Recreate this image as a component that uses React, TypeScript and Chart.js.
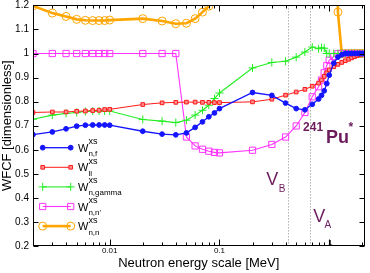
import React, { useEffect, useRef } from 'react';
import { Chart, registerables } from 'chart.js';

Chart.register(...registerables);

// ---- data ----
const energies = [
  0.002, 0.003, 0.004, 0.005, 0.006, 0.007, 0.008, 0.009, 0.01,
  0.02, 0.03, 0.04, 0.05, 0.06, 0.07, 0.08, 0.09, 0.1,
  0.2, 0.3, 0.4, 0.5, 0.6, 0.7, 0.8, 0.85, 0.9, 0.95, 1.0,
  1.1, 1.2, 1.3, 1.4, 1.5, 1.6, 1.7, 1.8, 1.9, 2.0,
];

const wnf = [
  0.663, 0.674, 0.687, 0.698, 0.702, 0.703, 0.703, 0.703, 0.702,
  0.677, 0.665, 0.662, 0.670, 0.693, 0.716, 0.737, 0.753, 0.771,
  0.838, 0.826, 0.794, 0.771, 0.766, 0.789, 0.811, 0.826, 0.845, 0.875, 0.910,
  0.960, 0.985, 0.995, 1.0, 1.0, 1.0, 1.0, 1.0, 1.0, 1.0,
];

const wll = [
  0.755, 0.757, 0.757, 0.760, 0.761, 0.763, 0.764, 0.767, 0.768,
  0.788, 0.795, 0.797, 0.798, 0.798, 0.797, 0.797, 0.796, 0.796,
  0.799, 0.810, 0.827, 0.840, 0.851, 0.864, 0.877, 0.890, 0.905, 0.920, 0.932,
  0.945, 0.955, 0.963, 0.970, 0.976, 0.982, 0.987, 0.992, 0.996, 1.0,
];

const wng = [
  0.727, 0.744, 0.751, 0.755, 0.759, 0.761, 0.761, 0.761, 0.761,
  0.726, 0.719, 0.713, 0.723, 0.744, 0.764, 0.785, 0.813, 0.836,
  0.940, 0.963, 0.968, 0.985, 1.006, 1.027, 1.020, 1.024, 1.022, 1.0, 1.0,
  1.0, 1.0, 1.0, 1.0, 1.0, 1.0, 1.0, 1.0, 1.0, 1.0,
];

const wnnp = [
  1.0, 1.0, 1.0, 1.0, 1.0, 1.0, 1.0, 1.0, 1.0,
  1.0, 1.0, 1.0, 0.653, 0.616, 0.602, 0.594, 0.589, 0.587,
  0.598, 0.622, 0.653, 0.699, 0.755, 0.820, 0.862, 0.890, 0.920, 0.950, 0.972,
  0.988, 1.0, 1.0, 1.0, 1.0, 1.0, 1.0, 1.0, 1.0, 1.0,
];

const wnn = [
  1.198, 1.168, 1.154, 1.142, 1.138, 1.137, 1.137, 1.137, 1.139,
  1.145, 1.135, 1.124, 1.126, 1.145, 1.172, 1.197, 1.23, 1.27,
  1.55, 1.70, 1.80, 1.90, 2.00, 2.10, 2.20, 2.30, 2.40, 2.50, 2.60,
  3.00, 1.172, 1.0, 1.0, 1.0, 1.0, 1.0, 1.0, 1.0, 1.0,
];

const seriesSubs = ['n,f', 'll', 'n,gamma', "n,n'", 'n,n'];
const seriesSup = 'xs';
const seriesMain = 'W';

const xTickLabels = [0.01, 0.1, 1];
const yTickValues = [0.2, 0.3, 0.4, 0.5, 0.6, 0.7, 0.8, 0.9, 1.0, 1.1, 1.2];

const barrierB = 0.424; // V_B
const barrierA = 0.662; // V_A

const X_MIN = 0.002;
const X_MAX = 2.1;
const Y_MIN = 0.2;
const Y_MAX = 1.2;

const FONT = '"Liberation Sans", Arial, Helvetica, sans-serif';
const ANNOT = '#6b1a5c';

const styles = [
  { color: '#1414ff', bg: '#1414ff', lw: 1.3, ps: 'circle', r: 2.4 },
  { color: '#ff1a1a', bg: '#ff8c8c', lw: 1, ps: 'rect', r: 2.6 },
  { color: '#22ee22', bg: '#22ee22', lw: 1.1, ps: 'cross', r: 4 },
  { color: '#ff33ff', bg: 'rgba(255,255,255,0)', lw: 1.1, ps: 'rect', r: 4.4 },
  { color: '#ffa500', bg: 'rgba(255,255,255,0)', lw: 2.6, ps: 'circle', r: 4 },
];

const allSeries = [wnf, wll, wng, wnnp, wnn];

function drawMarker(ctx: CanvasRenderingContext2D, st: any, x: number, y: number) {
  ctx.save();
  ctx.lineWidth = 1;
  ctx.strokeStyle = st.color;
  ctx.fillStyle = st.bg;
  ctx.beginPath();
  if (st.ps === 'circle') {
    ctx.arc(x, y, st.r, 0, Math.PI * 2);
    ctx.fill();
    ctx.stroke();
  } else if (st.ps === 'rect') {
    const s = st.r * Math.SQRT1_2;
    ctx.rect(x - s, y - s, 2 * s, 2 * s);
    ctx.fill();
    ctx.stroke();
  } else if (st.ps === 'cross') {
    ctx.moveTo(x - st.r, y);
    ctx.lineTo(x + st.r, y);
    ctx.moveTo(x, y - st.r);
    ctx.lineTo(x, y + st.r);
    ctx.stroke();
  }
  ctx.restore();
}

const decorPlugin = {
  id: 'decor',
  beforeDatasetsDraw(chart: any) {
    const { ctx, chartArea: ca, scales } = chart;
    const x = scales.x;
    ctx.save();
    ctx.strokeStyle = '#8a8a8a';
    ctx.lineWidth = 1;
    ctx.setLineDash([1, 2]);
    for (const e of [barrierB, barrierA]) {
      const px = Math.round(x.getPixelForValue(e)) + 0.5;
      ctx.beginPath();
      ctx.moveTo(px, ca.top);
      ctx.lineTo(px, ca.bottom);
      ctx.stroke();
    }
    ctx.restore();
  },
  afterDatasetsDraw(chart: any) {
    const { ctx, chartArea: ca, scales } = chart;
    const x = scales.x;
    const y = scales.y;
    ctx.save();
    // frame
    ctx.strokeStyle = '#000';
    ctx.lineWidth = 1;
    const L = Math.round(ca.left) + 0.5;
    const R = Math.round(ca.right) - 0.5;
    const T = Math.round(ca.top) + 0.5;
    const B = Math.round(ca.bottom) - 0.5;
    ctx.strokeRect(L, T, R - L, B - T);

    // x ticks (inward, log minor)
    ctx.beginPath();
    for (let d = -3; d <= 0; d++) {
      for (let k = 1; k <= 9; k++) {
        const v = k * Math.pow(10, d);
        if (v < X_MIN * 0.999 || v > X_MAX) continue;
        const px = Math.round(x.getPixelForValue(v)) + 0.5;
        const len = k === 1 ? 6 : 3;
        ctx.moveTo(px, B);
        ctx.lineTo(px, B - len);
        ctx.moveTo(px, T);
        ctx.lineTo(px, T + len);
      }
    }
    // y ticks
    for (const v of yTickValues) {
      const py = Math.round(y.getPixelForValue(v)) + 0.5;
      ctx.moveTo(L, py);
      ctx.lineTo(L + 5, py);
      ctx.moveTo(R, py);
      ctx.lineTo(R - 5, py);
    }
    ctx.stroke();

    // the "1" label sitting just above the bottom axis
    ctx.fillStyle = '#000';
    ctx.font = `8px ${FONT}`;
    ctx.textAlign = 'center';
    ctx.textBaseline = 'alphabetic';
    ctx.fillText(String(xTickLabels[2]), x.getPixelForValue(xTickLabels[2]) + 1, ca.bottom - 1);

    // legend
    const legX1 = ca.left + 9.7;
    const legX2 = ca.left + 37.7;
    const textX = ca.left + 45;
    for (let i = 0; i < styles.length; i++) {
      const st = styles[i];
      const ly = ca.top + 142.3 + i * 19.6;
      ctx.strokeStyle = st.color;
      ctx.lineWidth = st.lw;
      ctx.beginPath();
      ctx.moveTo(legX1, ly);
      ctx.lineTo(legX2, ly);
      ctx.stroke();
      drawMarker(ctx, st, legX1, ly);
      drawMarker(ctx, st, legX2, ly);
      ctx.fillStyle = '#000';
      ctx.textAlign = 'left';
      ctx.textBaseline = 'alphabetic';
      ctx.font = `11px ${FONT}`;
      ctx.fillText(seriesMain, textX, ly + 4);
      const wW = ctx.measureText(seriesMain).width;
      ctx.font = `9px ${FONT}`;
      ctx.fillText(seriesSup, textX + wW, ly - 3.5);
      ctx.font = `8px ${FONT}`;
      ctx.fillText(seriesSubs[i], textX + wW, ly + 8.5);
    }

    // annotations
    const xB = x.getPixelForValue(barrierB);
    const xA = x.getPixelForValue(barrierA);
    ctx.fillStyle = ANNOT;
    ctx.textAlign = 'left';
    ctx.font = `18px ${FONT}`;
    ctx.fillText('V', xB - 22, 185);
    ctx.fillText('V', xA + 3.7, 222);
    ctx.font = `10px ${FONT}`;
    ctx.fillText('B', xB - 9.5, 192);
    ctx.fillText('A', xA + 15, 228);
    ctx.font = `bold 12px ${FONT}`;
    ctx.fillText('241', xA - 6.5, 131);
    ctx.font = `bold 18px ${FONT}`;
    ctx.fillText('Pu', xA + 16.5, 143);
    ctx.font = `bold 12px ${FONT}`;
    ctx.fillText('*', xA + 39, 131);
    ctx.restore();
  },
};

function zeroPadding(scale: any) {
  scale.paddingLeft = 0;
  scale.paddingRight = 0;
  scale.paddingTop = 0;
  scale.paddingBottom = 0;
}

export default function App() {
  const ref = useRef<HTMLCanvasElement>(null);

  useEffect(() => {
    if (!ref.current) return;
    const datasets = allSeries.map((vals, i) => {
      const st = styles[i];
      return {
        label: seriesMain + seriesSup + ' ' + seriesSubs[i],
        data: energies.map((e, j) => ({ x: e, y: vals[j] })),
        borderColor: st.color,
        backgroundColor: st.bg,
        borderWidth: st.lw,
        pointStyle: st.ps,
        pointRadius: st.r,
        pointBorderWidth: 1,
        pointBorderColor: st.color,
        pointBackgroundColor: st.bg,
        tension: 0,
        fill: false,
      };
    });

    const chart = new Chart(ref.current, {
      type: 'line',
      data: { datasets } as any,
      options: {
        responsive: false,
        animation: false,
        devicePixelRatio: 1,
        layout: { padding: { left: 0, right: 4, top: 5, bottom: 0 } },
        plugins: {
          legend: { display: false },
          tooltip: { enabled: false },
        },
        scales: {
          x: {
            type: 'logarithmic',
            min: X_MIN,
            max: X_MAX,
            grid: { display: false, drawTicks: false },
            border: { display: false },
            afterFit: (s: any) => {
              s.height = 27;
              zeroPadding(s);
            },
            ticks: {
              autoSkip: false,
              maxRotation: 0,
              minRotation: 0,
              padding: 0,
              color: '#000',
              font: { family: FONT, size: 8 },
              callback: (v: any) => {
                const n = Number(v);
                for (const t of xTickLabels.slice(0, 2)) {
                  if (Math.abs(n - t) / t < 1e-6) return String(t);
                }
                return '';
              },
            },
            title: {
              display: true,
              text: 'Neutron energy scale [MeV]',
              color: '#000',
              font: { family: FONT, size: 13, lineHeight: '15px' },
              padding: { top: 0, bottom: 2 },
            },
          },
          y: {
            type: 'linear',
            min: Y_MIN,
            max: Y_MAX,
            grid: { display: false, drawTicks: false },
            border: { display: false },
            afterFit: (s: any) => {
              s.width = 33;
              zeroPadding(s);
            },
            afterBuildTicks: (s: any) => {
              s.ticks = yTickValues.map((v) => ({ value: v }));
            },
            ticks: {
              padding: 4,
              color: '#000',
              font: { family: FONT, size: 10 },
              callback: (v: any) => String(Math.round(Number(v) * 10) / 10),
            },
            title: {
              display: true,
              text: 'WFCF [dimensionless]',
              color: '#000',
              font: { family: FONT, size: 13, lineHeight: '14px' },
              padding: { top: 0, bottom: 0 },
            },
          },
        },
      } as any,
      plugins: [decorPlugin],
    });
    return () => chart.destroy();
  }, []);

  return (
    <div style={{ position: 'fixed', left: 0, top: 0, width: 370, height: 273, background: '#fff' }}>
      <canvas ref={ref} width={370} height={273} style={{ display: 'block', width: 370, height: 273 }} />
    </div>
  );
}
